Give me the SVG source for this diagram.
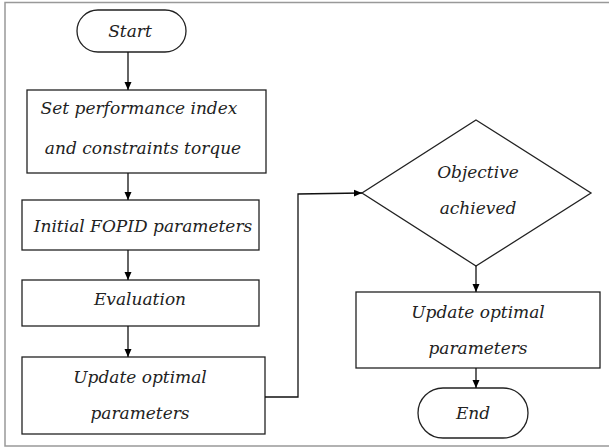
<svg xmlns="http://www.w3.org/2000/svg" width="609" height="448" viewBox="0 0 609 448">
<defs>
<marker id="ah" markerWidth="8" markerHeight="8" refX="8" refY="4" orient="auto" markerUnits="userSpaceOnUse">
<path d="M0,0.5 L8,4 L0,7.5 Z" fill="#000"/>
</marker>
<style>
.n{fill:#fff;stroke:#222;stroke-width:1.3}
.t{font-family:"DejaVu Serif","Liberation Serif",serif;font-style:italic;font-size:17px;fill:#222;text-anchor:middle;dominant-baseline:central}
.c{fill:none;stroke:#111;stroke-width:1.3;marker-end:url(#ah)}
</style>
</defs>
<rect x="5" y="2.5" width="640" height="443.5" fill="#fff" stroke="#999" stroke-width="1.5"/>
<g id="start"><rect class="n" x="77" y="10" width="109" height="42" rx="21"/><text class="t" x="130" y="31">Start</text></g>
<g id="set"><rect class="n" x="27" y="90" width="239" height="83"/><text class="t" x="139" y="108">Set performance index</text><text class="t" x="143" y="148">and constraints torque</text></g>
<g id="init"><rect class="n" x="22" y="200" width="237" height="50"/><text class="t" x="143" y="226">Initial FOPID parameters</text></g>
<g id="eval"><rect class="n" x="22" y="280" width="237" height="46"/><text class="t" x="140" y="299">Evaluation</text></g>
<g id="upd1"><rect class="n" x="22" y="357" width="243" height="77"/><text class="t" x="140" y="377">Update optimal</text><text class="t" x="140" y="413">parameters</text></g>
<g id="obj"><polygon class="n" points="476,120 591,193 476,266 362,193"/><text class="t" x="478" y="172">Objective</text><text class="t" x="478" y="208">achieved</text></g>
<g id="upd2"><rect class="n" x="356" y="292" width="244" height="76"/><text class="t" x="478" y="312">Update optimal</text><text class="t" x="478" y="348">parameters</text></g>
<g id="end"><rect class="n" x="418" y="388" width="110" height="50" rx="25"/><text class="t" x="473" y="413">End</text></g>
<g id="connectors">
<path class="c" d="M128,52 V90"/>
<path class="c" d="M128,173 V200"/>
<path class="c" d="M128,250 V280"/>
<path class="c" d="M128,326 V357"/>
<path class="c" d="M265,397 H298 V194 L362,193"/>
<path class="c" d="M476,266 V292"/>
<path class="c" d="M476,368 V388"/>
</g>
</svg>
